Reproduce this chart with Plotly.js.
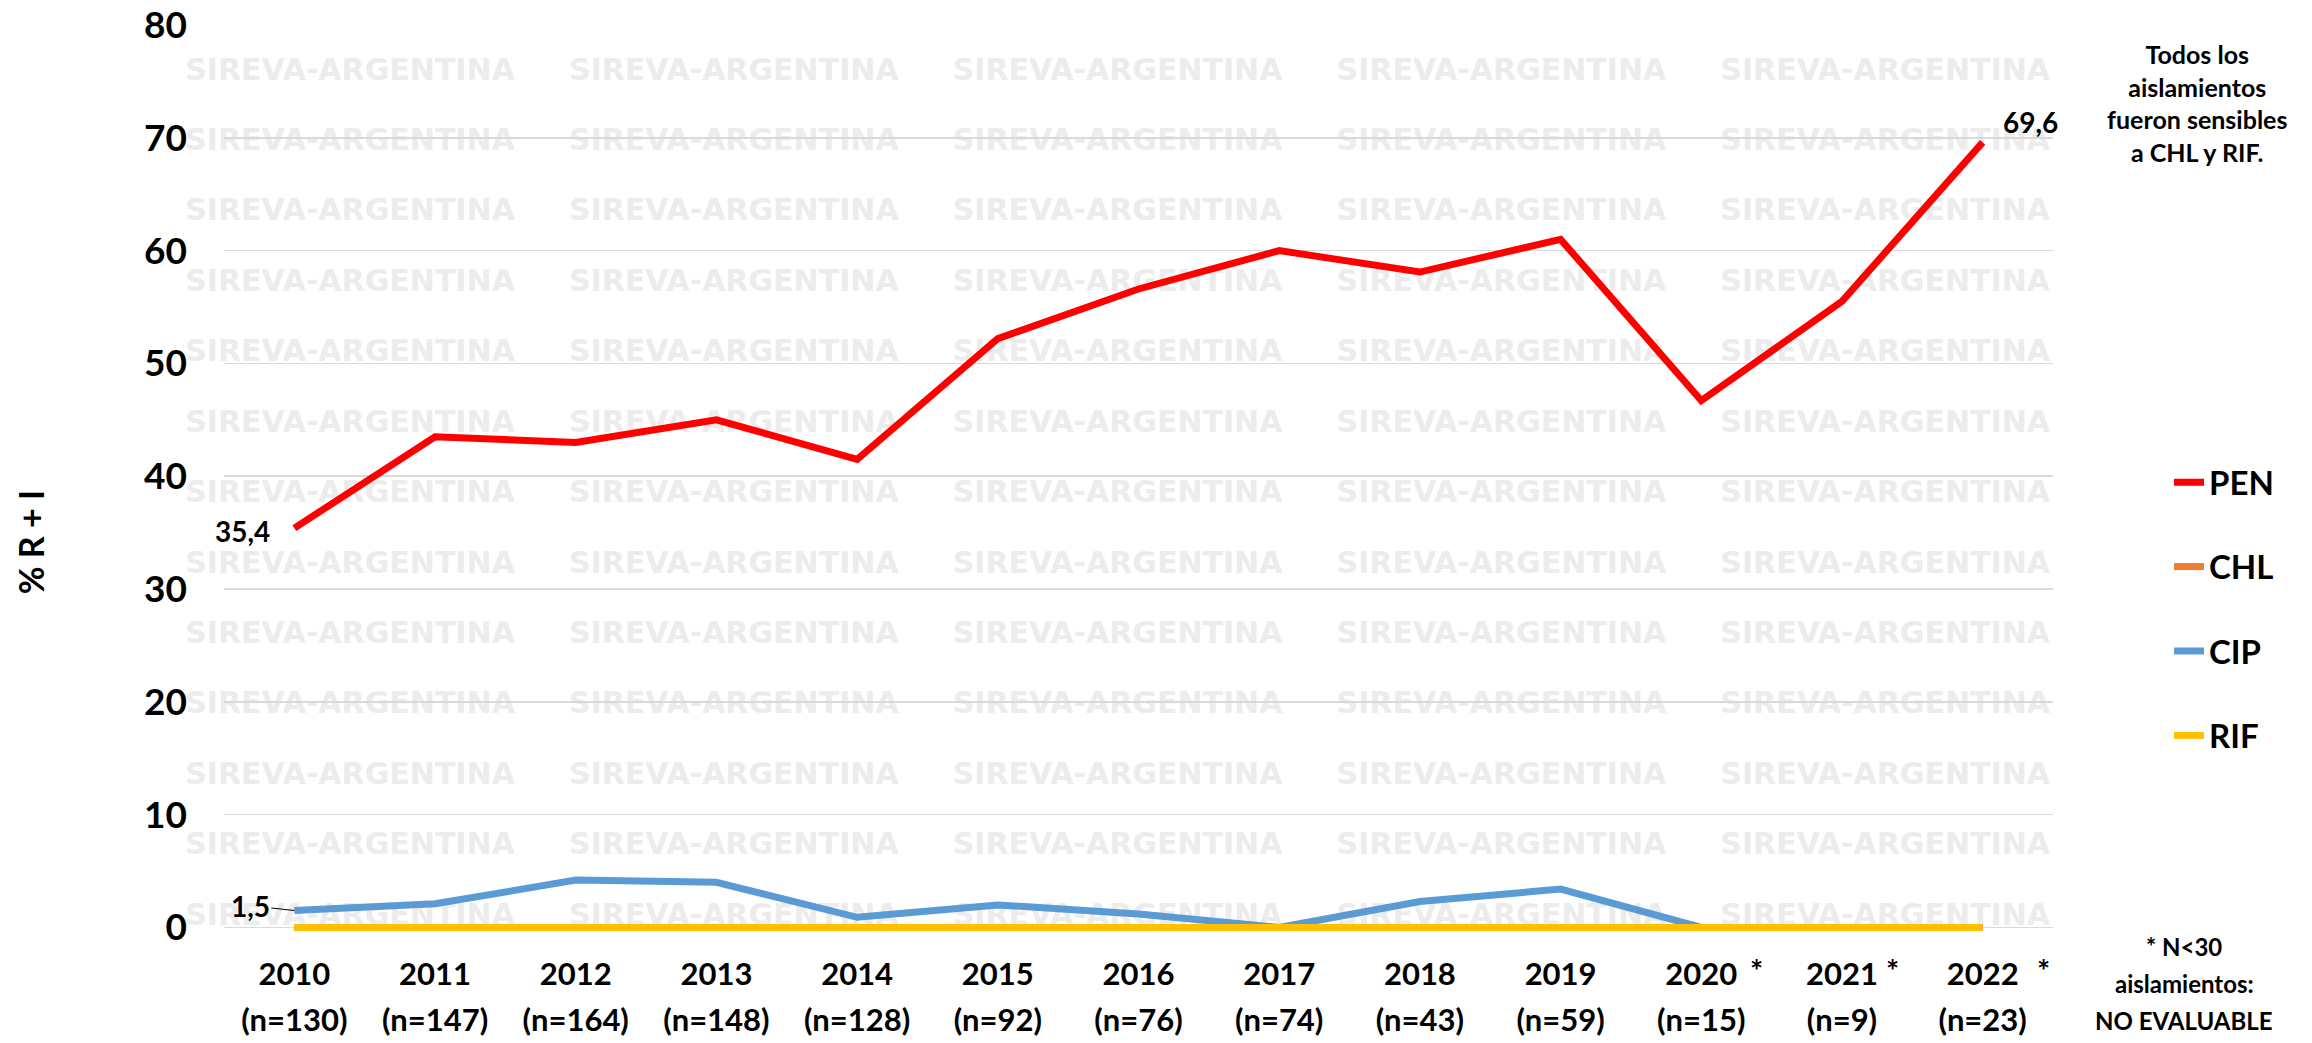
<!DOCTYPE html>
<html>
<head>
<meta charset="utf-8">
<script src="https://cdn.plot.ly/plotly-3.0.1.min.js"></script>
<style>
  html, body { margin: 0; padding: 0; background: #ffffff; }
  #chart { width: 2312px; height: 1043px; }
</style>
</head>
<body>
<div id="chart"></div>
<script>
// ---------------- DATA ----------------
const years = ['2010','2011','2012','2013','2014','2015','2016','2017','2018','2019','2020','2021','2022'];
const nIsolates = [130, 147, 164, 148, 128, 92, 76, 74, 43, 59, 15, 9, 23];
const penValues = [35.4, 43.5, 43.0, 45.0, 41.5, 52.2, 56.6, 60.0, 58.1, 61.0, 46.7, 55.5, 69.6];
const chlValues = [0, 0, 0, 0, 0, 0, 0, 0, 0, 0, 0, 0, 0];
const cipValues = [1.5, 2.1, 4.2, 4.0, 0.9, 2.0, 1.2, 0.0, 2.3, 3.4, 0.0, 0.0, 0.0];
const rifValues = [0, 0, 0, 0, 0, 0, 0, 0, 0, 0, 0, 0, 0];
const seriesNames = ['PEN', 'CHL', 'CIP', 'RIF'];
const yTickValues = [0, 10, 20, 30, 40, 50, 60, 70, 80];
const starredYears = ['2020', '2021', '2022'];
const yAxisTitle = '% R + I';
const noteTop = 'Todos los<br>aislamientos<br>fueron sensibles<br>a CHL y RIF.';
const noteBottomLines = ['* N<30', 'aislamientos:', 'NO EVALUABLE'];
const watermarkText = 'SIREVA-ARGENTINA';
const labelFirstPen = '35,4';
const labelLastPen = '69,6';
const labelFirstCip = '1,5';

// ---------------- STYLE ----------------
const FONT = 'Lato, "Open Sans", "Noto Sans", sans-serif';
const colors = { PEN: '#FF0000', CHL: '#ED7D31', CIP: '#5B9BD5', RIF: '#FFC000' };
const W = 2312, H = 1043;
const ZERO_PX = 927, TOP_PX = 25;            // pixel rows of 0 and 80
const yMin = -0.4, yMax = 80;                // small pad below 0 so the 0-lines are not clipped
const unitPx = (ZERO_PX - TOP_PX) / yMax;
const M = { l: 224, r: 259, t: TOP_PX, b: H - (ZERO_PX + (-yMin) * unitPx) };
const plotW = W - M.l - M.r, plotH = H - M.t - M.b;
const px = x => (x - M.l) / plotW;        // pixel -> paper x
const py = y => (H - M.b - y) / plotH;    // pixel -> paper y

// tick labels: line spacing follows the (larger) axis font size, glyphs drawn at 31px
const tl = s => '<span style="font-size:31px">' + s + '</span>';
const tickText = years.map((y, i) => tl(y) + '<br>' + tl('(n=' + nIsolates[i] + ')'));
const valuesBySeries = { PEN: penValues, CHL: chlValues, CIP: cipValues, RIF: rifValues };
const catIndex = y => years.indexOf(y);
const lastIdx = years.length - 1;

const traces = seriesNames.map((name, i) => ({
  type: 'scatter',
  mode: 'lines',
  name: name,
  x: years,
  y: valuesBySeries[name],
  line: { color: colors[name], width: 7 },
  legendgroup: 'g' + i,
  hoverinfo: 'skip'
}));

// watermark (layout decoration, below the grid)
const shapes = [];
for (let r = 0; r < 13; r++) {
  for (let c = 0; c < 5; c++) {
    const cx = 350 + c * 383.8, cy = 67 + r * 70.4;
    shapes.push({
      type: 'rect', xref: 'paper', yref: 'paper', layer: 'below',
      x0: px(cx - 180), x1: px(cx + 180), y0: py(cy + 20), y1: py(cy - 20),
      line: { width: 0, color: 'rgba(0,0,0,0)' },
      fillcolor: 'rgba(0,0,0,0)',
      label: { text: watermarkText, textposition: 'middle center',
               font: { family: '"DejaVu Sans", sans-serif', size: 30, color: '#ececec', weight: 'bold' } }
    });
  }
}

const annotations = [
  // y-axis title
  { xref: 'paper', yref: 'paper', x: px(30), y: py(542), text: yAxisTitle, textangle: -90,
    showarrow: false, xanchor: 'center', yanchor: 'middle',
    font: { family: FONT, size: 34, color: '#000', weight: 'bold' } },
  // data labels
  { xref: 'x', yref: 'y', x: 0, y: penValues[0], text: labelFirstPen, showarrow: false,
    xanchor: 'right', yanchor: 'middle', xshift: -22, yshift: -3,
    font: { family: FONT, size: 28, color: '#000', weight: 'bold' } },
  { xref: 'x', yref: 'y', x: lastIdx, y: penValues[lastIdx], text: labelLastPen,
    showarrow: false, xanchor: 'left', yanchor: 'middle', xshift: 18, yshift: 20,
    font: { family: FONT, size: 28, color: '#000', weight: 'bold' } },
  { xref: 'x', yref: 'y', x: 0, y: cipValues[0], text: labelFirstCip, showarrow: true,
    arrowhead: 0, arrowwidth: 1, arrowcolor: '#000', ax: -44, ay: -5, standoff: 0,
    font: { family: FONT, size: 28, color: '#000', weight: 'bold' } },
  // top right note
  { xref: 'paper', yref: 'paper', x: px(2197), y: py(103), text: noteTop, showarrow: false,
    xanchor: 'center', yanchor: 'middle', align: 'center',
    font: { family: FONT, size: 25, color: '#000', weight: 'bold' } }
];
const bottomY = [946, 983, 1020];
noteBottomLines.forEach((t, i) => annotations.push({
  xref: 'paper', yref: 'paper', x: px(2184), y: py(bottomY[i]), text: t, showarrow: false,
  xanchor: 'center', yanchor: 'middle',
  font: { family: FONT, size: 24, color: '#000', weight: 'bold' }
}));
const starShift = { '2020': 55, '2021': 51, '2022': 61 };
starredYears.forEach(y => annotations.push({
  xref: 'x', yref: 'paper', x: catIndex(y), y: py(969), text: '*', showarrow: false,
  xanchor: 'center', yanchor: 'middle', xshift: starShift[y],
  font: { family: FONT, size: 31, color: '#000', weight: 'bold' }
}));

const layout = {
  width: W, height: H,
  margin: M,
  paper_bgcolor: '#ffffff', plot_bgcolor: 'rgba(0,0,0,0)',
  font: { family: FONT, color: '#000' },
  showlegend: true,
  legend: {
    x: px(2169), xanchor: 'left', y: py(454), yanchor: 'top',
    font: { family: FONT, size: 33, color: '#000', weight: 'bold' },
    tracegroupgap: 38.5, bgcolor: 'rgba(0,0,0,0)', borderwidth: 0
  },
  xaxis: {
    type: 'category', tickvals: years, ticktext: tickText,
    range: [-0.5, lastIdx + 0.5], autorange: false,
    showgrid: false, zeroline: false, showline: false, ticks: '',
    ticklabelstandoff: 17,
    tickfont: { family: FONT, size: 35, color: '#000', weight: 'bold' },
    fixedrange: true
  },
  yaxis: {
    range: [yMin, yMax], autorange: false, tickvals: yTickValues, ticks: '',
    showgrid: true, gridcolor: '#d9d9d9', gridwidth: 1.5,
    zeroline: false,
    showline: false, ticklabelstandoff: 36,
    tickfont: { family: FONT, size: 37, color: '#000', weight: 'bold' },
    fixedrange: true
  },
  shapes: shapes,
  annotations: annotations
};

Plotly.newPlot('chart', traces, layout, { displayModeBar: false, staticPlot: true });
</script>
</body>
</html>
